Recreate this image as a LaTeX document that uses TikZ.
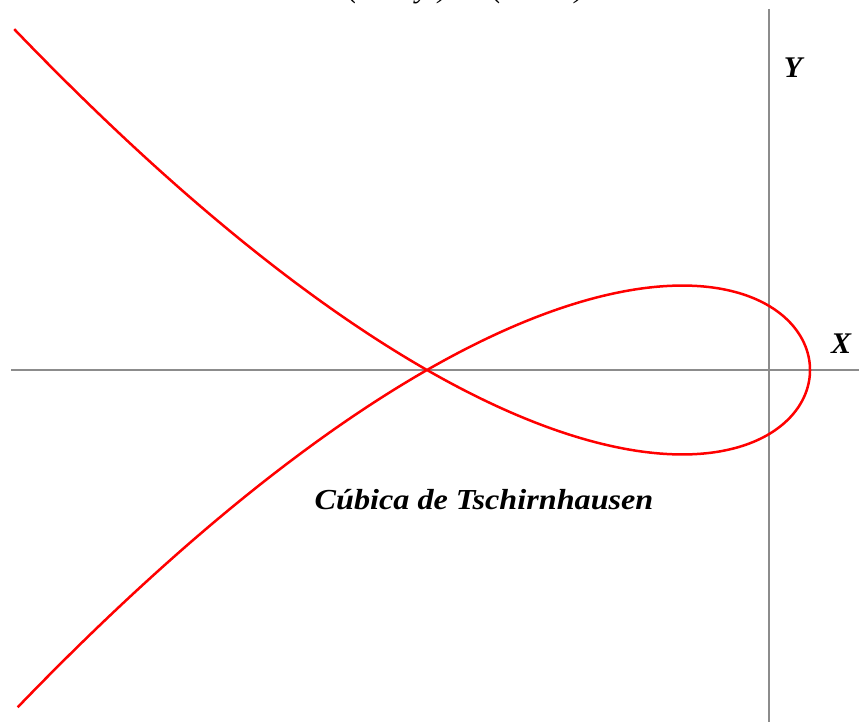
\documentclass[tikz,border=0pt]{standalone}
\usepackage{fontspec}
\setmainfont{Liberation Serif}
\begin{document}
\begin{tikzpicture}[x=1pt,y=-1pt,
  axis/.style={draw=black!45,line width=1.6pt},
  curve/.style={draw=red,line width=2.5pt,line join=round},
  lab/.style={font=\fontsize{30}{32}\selectfont\bfseries\itshape,inner sep=0pt},
  captext/.style={font=\fontsize{29}{31}\selectfont\bfseries\itshape,inner sep=0pt,xscale=1.11}]
\useasboundingbox (0,0) rectangle (859,722);
\clip (0,0) rectangle (859,722);
\fill[white] (0,0) rectangle (859,722);
% axes
\coordinate (xl) at (11,370);
\coordinate (xr) at (859,370);
\coordinate (yt) at (769,9);
\coordinate (yb) at (769,722);
\draw[axis] (xl) -- (xr);
\draw[axis] (yt) -- (yb);
% Tschirnhausen cubic
\draw[curve] plot[domain=-0.8322:0.8322,samples=241,smooth]
  ({427+383*(1-3*\x*\x)},{370-380*\x*(1-3*\x*\x)});
% labels
\node[lab] (ylab) at (793,68) {Y};
\node[lab] (xlab) at (841,344) {X};
\node[captext] (title) at (484,500) {Cúbica de Tschirnhausen};
\node[font=\fontsize{30}{32}\selectfont\itshape,anchor=base west,inner sep=0pt] (eq) at (348,-2) {(x² + y²)² = (x³ + 8)};
\end{tikzpicture}
\end{document}
